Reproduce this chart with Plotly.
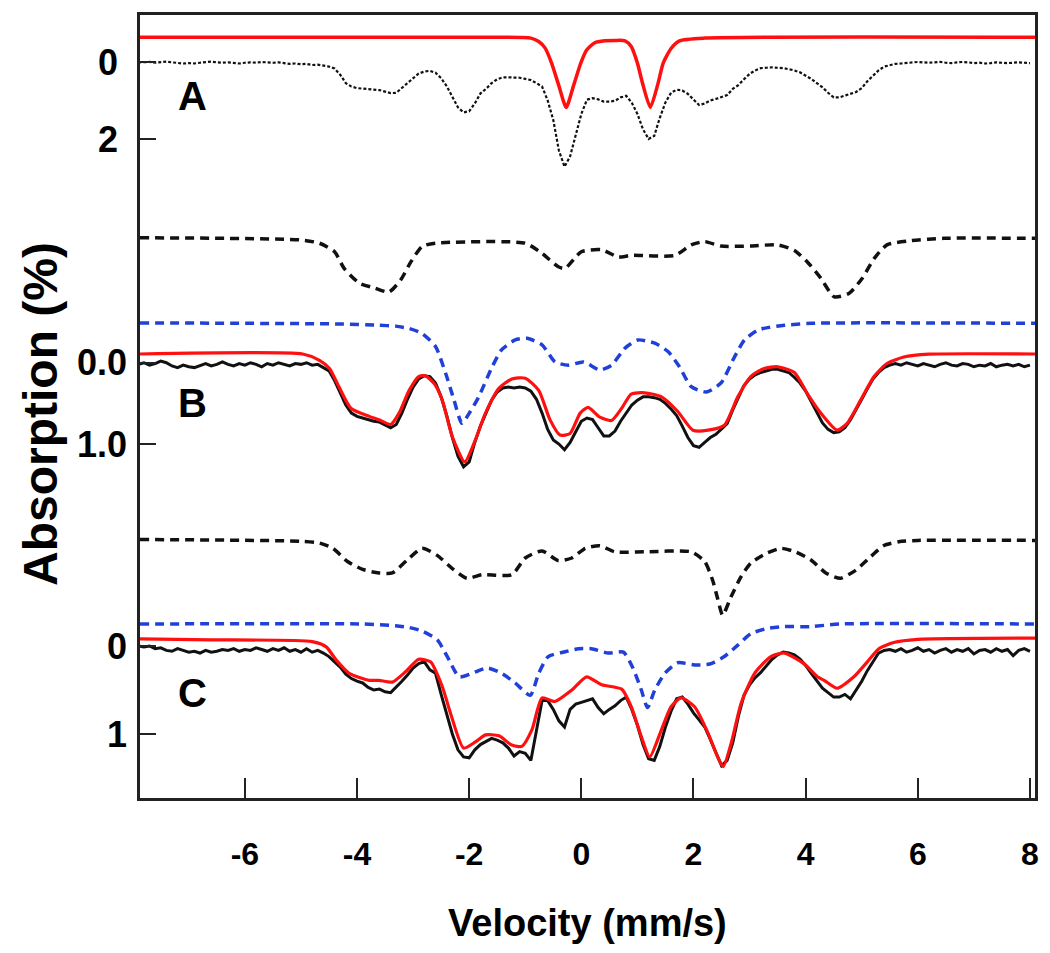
import numpy as np
import plotly.graph_objects as go

# ---------------- data ----------------
# common velocity grid of the measured spectra, -7.9 ... 8.0 mm/s
velocity = np.round(np.arange(-79, 81) * 0.1, 1)

# Panel A: measured spectrum (absorption %, rows of 10 channels)
a_data = [
    0.01, 0.01, 0.00, 0.02, 0.00, -0.01, 0.01, 0.03, 0.04, 0.03,
    0.04, 0.02, 0.00, -0.01, 0.01, 0.02, 0.01, 0.02, 0.04, 0.02,
    0.01, 0.02, 0.00, 0.01, 0.02, 0.01, 0.03, 0.05, 0.04, 0.06,
    0.05, 0.08, 0.07, 0.10, 0.12, 0.17, 0.33, 0.55, 0.64, 0.68,
    0.69, 0.70, 0.71, 0.73, 0.77, 0.81, 0.80, 0.68, 0.55, 0.42,
    0.30, 0.25, 0.23, 0.28, 0.42, 0.63, 0.92, 1.18, 1.31, 1.28,
    1.08, 0.82, 0.70, 0.55, 0.45, 0.40, 0.40, 0.41, 0.41, 0.44,
    0.47, 0.55, 0.64, 1.00, 1.51, 2.30, 2.72, 2.45, 1.90, 1.35,
    0.98, 0.94, 0.97, 1.03, 1.03, 1.01, 0.92, 0.88, 1.06, 1.35,
    1.75, 2.00, 1.92, 1.45, 1.05, 0.80, 0.72, 0.74, 0.83, 0.98,
    1.12, 1.08, 1.00, 0.96, 0.92, 0.86, 0.70, 0.60, 0.45, 0.31,
    0.22, 0.16, 0.15, 0.14, 0.15, 0.16, 0.19, 0.22, 0.27, 0.35,
    0.44, 0.55, 0.66, 0.80, 0.92, 0.92, 0.87, 0.84, 0.78, 0.68,
    0.50, 0.36, 0.22, 0.12, 0.08, 0.05, 0.04, 0.03, 0.02, 0.00,
    0.01, 0.02, 0.01, 0.00, 0.02, 0.03, 0.01, 0.00, 0.01, 0.03,
    0.02, 0.04, 0.03, 0.01, 0.02, 0.03, 0.02, 0.01, 0.02, 0.03,
]

# Panel B: measured spectrum
b_data = [
    0.02, 0.00, 0.03, 0.01, -0.02, 0.00, 0.04, 0.06, 0.03, 0.05,
    0.06, 0.03, 0.01, 0.04, 0.02, -0.01, 0.02, 0.04, 0.01, 0.03,
    0.00, 0.02, 0.05, 0.01, 0.03, 0.00, 0.02, 0.04, 0.01, 0.02,
    0.00, 0.03, 0.02, 0.06, 0.10, 0.22, 0.36, 0.52, 0.62, 0.66,
    0.68, 0.70, 0.72, 0.73, 0.76, 0.80, 0.76, 0.62, 0.45, 0.30,
    0.20, 0.16, 0.17, 0.25, 0.42, 0.65, 0.92, 1.15, 1.28, 1.22,
    0.98, 0.78, 0.62, 0.46, 0.36, 0.31, 0.30, 0.31, 0.30, 0.31,
    0.35, 0.45, 0.62, 0.82, 0.95, 1.00, 1.07, 0.98, 0.85, 0.72,
    0.68, 0.70, 0.80, 0.90, 0.90, 0.84, 0.72, 0.62, 0.52, 0.46,
    0.42, 0.42, 0.43, 0.45, 0.50, 0.57, 0.65, 0.78, 0.92, 1.02,
    1.04, 0.98, 0.92, 0.88, 0.82, 0.75, 0.58, 0.42, 0.28, 0.20,
    0.15, 0.12, 0.10, 0.08, 0.08, 0.10, 0.12, 0.18, 0.25, 0.35,
    0.48, 0.62, 0.74, 0.82, 0.86, 0.85, 0.80, 0.70, 0.58, 0.45,
    0.32, 0.20, 0.12, 0.06, 0.03, 0.01, 0.03, 0.00, 0.02, 0.04,
    0.01, 0.03, 0.05, 0.02, 0.00, 0.03, 0.04, 0.01, 0.02, 0.05,
    0.03, 0.04, 0.01, 0.05, 0.03, 0.02, 0.04, 0.02, 0.05, 0.03,
]

# Panel C: measured spectrum
c_data = [
    0.00, 0.01, 0.00, 0.03, 0.02, 0.05, 0.06, 0.03, 0.05, 0.07,
    0.06, 0.08, 0.05, 0.07, 0.06, 0.04, 0.05, 0.03, 0.06, 0.04,
    0.05, 0.02, 0.04, 0.06, 0.03, 0.05, 0.02, 0.06, 0.04, 0.07,
    0.03, 0.07, 0.05, 0.08, 0.12, 0.18, 0.24, 0.32, 0.37, 0.40,
    0.42, 0.47, 0.50, 0.49, 0.52, 0.53, 0.47, 0.40, 0.33, 0.25,
    0.20, 0.18, 0.27, 0.31, 0.55, 0.78, 1.00, 1.18, 1.26, 1.27,
    1.18, 1.12, 1.08, 1.05, 1.07, 1.10, 1.16, 1.25, 1.20, 1.22,
    1.30, 0.98, 0.62, 0.62, 0.72, 0.85, 0.92, 0.72, 0.66, 0.64,
    0.62, 0.60, 0.70, 0.77, 0.72, 0.68, 0.62, 0.58, 0.72, 0.90,
    1.12, 1.28, 1.30, 1.14, 0.92, 0.74, 0.60, 0.58, 0.66, 0.76,
    0.84, 0.92, 1.06, 1.22, 1.36, 1.30, 1.10, 0.80, 0.56, 0.44,
    0.36, 0.30, 0.22, 0.15, 0.10, 0.07, 0.08, 0.10, 0.15, 0.22,
    0.31, 0.40, 0.48, 0.53, 0.58, 0.58, 0.55, 0.60, 0.50, 0.40,
    0.28, 0.18, 0.08, 0.05, 0.04, 0.06, 0.03, 0.07, 0.05, 0.02,
    0.06, 0.04, 0.08, 0.05, 0.03, 0.07, 0.04, 0.06, 0.03, 0.09,
    0.05, 0.04, 0.07, 0.03, 0.06, 0.04, 0.11, 0.05, 0.03, 0.06,
]

# Panel A: fitted doublet (red), displaced above the data
a_fit_v = [-7.87, -1.5, -0.9, -0.76, -0.645, -0.53, -0.40, -0.27, -0.14, -0.01,
           0.095, 0.24, 0.42, 0.6, 0.78, 0.89, 1.0, 1.10, 1.23, 1.36, 1.46,
           1.60, 1.75, 2.2, 8.09]
a_fit = [-0.64, -0.64, -0.62, -0.53, -0.36, 0.03, 0.62, 1.18, 0.62, 0.03,
         -0.31, -0.50, -0.55, -0.56, -0.55, -0.40, 0.03, 0.60, 1.18, 0.60, 0.03,
         -0.35, -0.55, -0.62, -0.64]

# Panel B: sextet component (black dashed)
b_comp1_v = [-7.87, -5.0, -4.67, -4.40, -4.23, -3.96, -3.69, -3.43, -3.22, -3.04,
             -2.84, -2.60, -1.0, -0.70, -0.41, -0.29, 0.0, 0.36, 0.66, 0.89,
             1.67, 1.96, 2.20, 2.49, 3.02, 3.50, 3.80, 4.03, 4.27, 4.51, 4.77,
             5.01, 5.22, 5.45, 5.87, 6.46, 8.09]
b_comp1 = [-1.537, -1.51, -1.47, -1.365, -1.16, -0.98, -0.92, -0.87, -1.02, -1.24,
           -1.43, -1.47, -1.47, -1.345, -1.18, -1.16, -1.365, -1.39, -1.30, -1.32,
           -1.32, -1.45, -1.49, -1.435, -1.435, -1.45, -1.38, -1.24, -1.04, -0.81, -0.85,
           -1.04, -1.28, -1.45, -1.50, -1.53, -1.53]

# Panel B: second component (blue dashed)
b_comp2_v = [-7.87, -4.26, -3.61, -3.31, -3.07, -2.84, -2.60, -2.42, -2.27, -2.13,
             -1.98, -1.83, -1.59, -1.42, -1.18, -0.97, -0.70, -0.47, -0.23, 0.04,
             0.33, 0.54, 0.78, 1.01, 1.31, 1.55, 1.75, 1.96, 2.23, 2.49, 2.73,
             2.91, 3.14, 3.35, 3.62, 4.1, 8.09]
b_comp2 = [-0.49, -0.476, -0.46, -0.45, -0.42, -0.36, -0.20, 0.13, 0.46, 0.745,
           0.60, 0.42, 0.05, -0.16, -0.28, -0.30, -0.22, -0.01, 0.03, -0.01,
           0.09, 0.03, -0.18, -0.28, -0.24, -0.135, 0.05, 0.295, 0.36, 0.25, -0.07,
           -0.28, -0.40, -0.435, -0.46, -0.485, -0.485]

# Panel B: total fit (red)
b_fit_v = [-7.87, -4.97, -4.67, -4.49, -4.32, -4.11, -3.78, -3.61, -3.40, -3.25,
           -3.07, -2.90, -2.78, -2.62, -2.48, -2.30, -2.08, -1.89, -1.71, -1.47,
           -1.24, -1.00, -0.76, -0.56, -0.38, -0.20, -0.02, 0.12, 0.33, 0.54,
           0.72, 0.89, 1.13, 1.43, 1.72, 1.99, 2.26, 2.55, 2.79, 3.02, 3.26,
           3.50, 3.80, 4.03, 4.27, 4.56, 4.74, 4.98, 5.22, 5.45, 5.75, 6.2, 8.09]
b_fit = [-0.107, -0.107, -0.03, 0.07, 0.30, 0.56, 0.66, 0.70, 0.76, 0.62,
         0.34, 0.17, 0.16, 0.26, 0.46, 0.91, 1.22, 0.95, 0.62, 0.315,
         0.20, 0.19, 0.34, 0.70, 0.89, 0.87, 0.62, 0.55, 0.67, 0.71,
         0.56, 0.385, 0.37, 0.42, 0.60, 0.83, 0.83, 0.77, 0.42, 0.17, 0.07,
         0.05, 0.12, 0.38, 0.62, 0.83, 0.745, 0.46, 0.17, 0.01, -0.07, -0.105, -0.107]

# Panel C: sextet component (black dashed)
c_comp1_v = [-7.87, -4.97, -4.67, -4.43, -4.17, -3.90, -3.61, -3.37, -3.10, -2.84,
             -2.57, -2.30, -2.04, -1.77, -1.24, -1.00, -0.70, -0.41, -0.17, 0.07,
             0.33, 0.60, 1.13, 1.96, 2.20, 2.34, 2.43, 2.52, 2.67, 2.85, 3.02,
             3.29, 3.56, 3.82, 4.09, 4.36, 4.62, 4.89, 5.16, 5.39, 5.66, 6.0, 8.09]
c_comp1 = [-1.21, -1.19, -1.17, -1.11, -0.96, -0.87, -0.83, -0.83, -0.98, -1.11,
           -1.03, -0.88, -0.77, -0.81, -0.81, -1.0, -1.08, -0.97, -1.0, -1.11,
           -1.14, -1.07, -1.07, -1.07, -0.96, -0.75, -0.54, -0.35, -0.56, -0.79, -0.94,
           -1.05, -1.11, -1.07, -0.98, -0.83, -0.77, -0.86, -1.015, -1.14, -1.185, -1.20, -1.20]

# Panel C: second component (blue dashed)
c_comp2_v = [-7.87, -3.90, -3.31, -3.07, -2.84, -2.57, -2.39, -2.18, -1.95, -1.68,
             -1.42, -1.18, -0.91, -0.76, -0.59, -0.29, -0.05, 0.18, 0.48, 0.75,
             0.92, 1.07, 1.18, 1.31, 1.49, 1.72, 2.02, 2.29, 2.55, 2.79, 3.02,
             3.32, 3.6, 4.09, 4.6, 8.09]
c_comp2 = [-0.25, -0.25, -0.23, -0.21, -0.17, -0.07, 0.12, 0.35, 0.31, 0.25,
           0.31, 0.42, 0.56, 0.31, 0.12, 0.065, 0.03, 0.03, 0.08, 0.07,
           0.25, 0.50, 0.70, 0.50, 0.31, 0.19, 0.215, 0.205, 0.12, -0.01, -0.14,
           -0.20, -0.22, -0.22, -0.25, -0.25]

# Panel C: total fit (red)
c_fit_v = [-7.87, -6.6, -4.8, -4.55, -4.37, -4.14, -3.78, -3.61, -3.37, -3.13,
           -2.90, -2.69, -2.48, -2.33, -2.10, -1.89, -1.71, -1.47, -1.24, -1.06,
           -0.88, -0.70, -0.47, -0.17, 0.095, 0.36, 0.72, 0.89, 1.07, 1.22,
           1.43, 1.60, 1.78, 2.02, 2.26, 2.43, 2.53, 2.67, 2.85, 3.09, 3.38,
           3.62, 3.97, 4.21, 4.33, 4.56, 4.86, 5.10, 5.31, 5.57, 6.0, 8.09]
c_fit = [-0.08, -0.07, -0.05, 0.01, 0.16, 0.31, 0.39, 0.39, 0.41, 0.29,
         0.15, 0.18, 0.46, 0.77, 1.16, 1.09, 1.01, 1.02, 1.125, 1.14,
         0.95, 0.59, 0.63, 0.50, 0.35, 0.44, 0.49, 0.69, 1.03, 1.26,
         0.95, 0.69, 0.59, 0.69, 0.99, 1.26, 1.37, 1.11, 0.65, 0.31, 0.12,
         0.08, 0.20, 0.35, 0.39, 0.48, 0.35, 0.18, 0.03, -0.04, -0.076, -0.09]

x_tick_vals = [-6, -4, -2, 0, 2, 4, 6, 8]
x_tick_text = ["-6", "-4", "-2", "0", "2", "4", "6", "8"]
a_tick_vals, a_tick_text = [0, 2], ["0", "2"]
b_tick_vals, b_tick_text = [0, 1], ["0.0", "1.0"]
c_tick_vals, c_tick_text = [0, 1], ["0", "1"]
panel_labels = ["A", "B", "C"]

# ---------------- styles ----------------
RED = "#ff1010"
BLUE = "#2040d8"
BLK = "#111111"
AX = "#222222"
BOLD = "Liberation Sans, Arial, sans-serif"

fig = go.Figure()

def line(x, y, yaxis, color, width, dash="solid", shape="spline"):
    fig.add_trace(go.Scatter(x=x, y=y, yaxis=yaxis, mode="lines",
                             line=dict(color=color, width=width, dash=dash,
                                       shape=shape, smoothing=0.6),
                             hoverinfo="skip", showlegend=False))

# Panel A
line(velocity, a_data, "y", BLK, 2.2, dash="3px,2px", shape="linear")
line(a_fit_v, a_fit, "y", RED, 3.5)

# Panel B
line(b_comp1_v, b_comp1, "y2", BLK, 3.5, dash="9px,6px")
line(b_comp2_v, b_comp2, "y2", BLUE, 3.5, dash="9px,6px")
line(velocity, b_data, "y2", BLK, 3.0, shape="linear")
line(b_fit_v, b_fit, "y2", RED, 3.2)

# Panel C
line(c_comp1_v, c_comp1, "y3", BLK, 3.5, dash="9px,6px")
line(c_comp2_v, c_comp2, "y3", BLUE, 3.5, dash="9px,6px")
line(velocity, c_data, "y3", BLK, 3.0, shape="linear")
line(c_fit_v, c_fit, "y3", RED, 3.2)

ytick_font = dict(family=BOLD, size=36, color="black", weight="bold")
common_y = dict(ticks="inside", ticklen=16, tickwidth=2, tickcolor=AX,
                showgrid=False, zeroline=False, tickfont=ytick_font,
                ticklabelstandoff=12, tickmode="array")

fig.update_layout(
    width=1050, height=953,
    margin=dict(l=140, r=11, t=15, b=155),
    paper_bgcolor="white", plot_bgcolor="white", showlegend=False,
    xaxis=dict(range=[-7.87, 8.09], tickmode="array", tickvals=x_tick_vals,
               ticktext=x_tick_text, ticks="inside", ticklen=20, tickwidth=2,
               tickcolor=AX, showline=True, linecolor=AX, linewidth=2.5,
               mirror=True, showgrid=False, zeroline=False,
               tickfont=dict(family=BOLD, size=32, color="black", weight="bold"),
               ticklabelstandoff=26),
    yaxis=dict(range=[19.12, -1.22], tickvals=a_tick_vals, ticktext=a_tick_text,
               showline=True, linecolor=AX, linewidth=2.5, mirror=True, **common_y),
    yaxis2=dict(range=[5.354, -4.277], tickvals=b_tick_vals, ticktext=b_tick_text,
                overlaying="y", side="left", anchor="x", showline=False, **common_y),
    yaxis3=dict(range=[1.727, -7.17], tickvals=c_tick_vals, ticktext=c_tick_text,
                overlaying="y", side="left", anchor="x", showline=False, **common_y),
)

label_font = dict(family=BOLD, size=40, color="black", weight="bold")
for lab, yref, yv in zip(panel_labels, ["y", "y2", "y3"], [0.88, 0.50, 0.53]):
    fig.add_annotation(text=lab, x=-6.93, y=yv, xref="x", yref=yref,
                       showarrow=False, font=label_font,
                       xanchor="center", yanchor="middle")

fig.add_annotation(text="Velocity (mm/s)", xref="paper", yref="paper",
                   x=0.5, y=-0.16, showarrow=False, xanchor="center",
                   yanchor="middle",
                   font=dict(family=BOLD, size=38, color="black", weight="bold"))
fig.add_annotation(text="Absorption (%)", xref="paper", yref="paper",
                   x=-0.111, y=0.49, showarrow=False, textangle=-90,
                   xanchor="center", yanchor="middle",
                   font=dict(family=BOLD, size=48, color="black", weight="bold"))

fig.write_html("out.html",
               config={"displayModeBar": False},
               post_script="document.body.style.margin='0';"
                           "document.body.style.overflow='hidden';")
